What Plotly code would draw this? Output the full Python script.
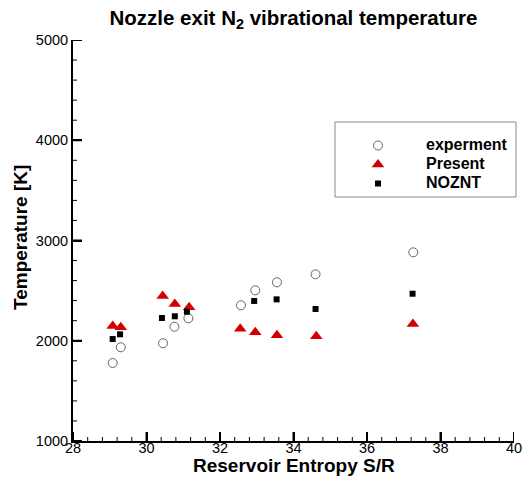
import plotly.graph_objects as go

# Data
exp_x = [29.08, 29.30, 30.45, 30.76, 31.14, 32.57, 32.96, 33.55, 34.60, 37.26]
exp_y = [1778, 1935, 1975, 2140, 2224, 2354, 2503, 2583, 2663, 2882]

present_x = [29.08, 29.30, 30.44, 30.77, 31.16, 32.55, 32.96, 33.55, 34.62, 37.25]
present_y = [2147, 2134, 2446, 2367, 2334, 2120, 2084, 2054, 2044, 2167]

noznt_x = [29.08, 29.28, 30.42, 30.77, 31.10, 32.93, 33.54, 34.60, 37.24]
noznt_y = [2017, 2064, 2227, 2244, 2290, 2397, 2413, 2317, 2469]

x_range = [28, 40]
y_range = [1000, 5000]
x_major_step, x_minor_per = 2, 5      # minor every 0.4
y_major_step, y_minor_per = 1000, 5   # minor every 200

FONT = "Liberation Sans, Arial, sans-serif"

W, H = 531, 481
L, R, T, B = 73, 17, 40, 40
PW, PH = W - L - R, H - T - B


def px_x(p):
    return (p - L) / PW


def px_y(p):
    return (H - B - p) / PH


def leg(name):
    return '<span style="font-size:16px"><b>' + name + "</b></span>"


fig = go.Figure()
fig.add_trace(go.Scatter(
    x=exp_x, y=exp_y, mode="markers", name=leg("experment"),
    marker=dict(symbol="circle-open", size=9, color="#666666", line=dict(width=1, color="#666666")),
))
fig.add_trace(go.Scatter(
    x=present_x, y=present_y, mode="markers", name=leg("Present"),
    marker=dict(symbol="triangle-up", size=11, color="#d40000"),
))
fig.add_trace(go.Scatter(
    x=noznt_x, y=noznt_y, mode="markers", name=leg("NOZNT"),
    marker=dict(symbol="square", size=6, color="#000000"),
))

axis_common = dict(
    showgrid=False, zeroline=False, showline=True, linecolor="black", linewidth=2,
    ticks="inside", ticklen=9, tickwidth=2, tickcolor="#000000",
    tickfont=dict(family=FONT, size=14.5, color="black"),
    mirror=False, automargin=False,
)

# Tick marks drawn as axis-anchored shapes (inside ticks, major + minor)
tick_shapes = []
nx = int(round((x_range[1] - x_range[0]) / x_major_step * x_minor_per))
for i in range(nx + 1):
    v = x_range[0] + i * x_major_step / x_minor_per
    major = i % x_minor_per == 0
    tick_shapes.append(dict(
        type="line", xref="x", yref="y", x0=v, x1=v,
        ysizemode="pixel", yanchor=y_range[0], y0=0, y1=9 if major else 4,
        line=dict(color="black", width=2 if major else 1),
    ))
ny = int(round((y_range[1] - y_range[0]) / y_major_step * y_minor_per))
for i in range(ny + 1):
    v = y_range[0] + i * y_major_step / y_minor_per
    major = i % y_minor_per == 0
    tick_shapes.append(dict(
        type="line", xref="x", yref="y", y0=v, y1=v,
        xsizemode="pixel", xanchor=x_range[0], x0=0, x1=9 if major else 4,
        line=dict(color="black", width=2 if major else 1),
    ))

legend_box = dict(
    type="rect", xref="paper", yref="paper",
    x0=px_x(335), x1=px_x(516),
    y0=px_y(197), y1=px_y(122),
    line=dict(color="#888888", width=1), fillcolor="rgba(0,0,0,0)",
)

fig.update_layout(
    width=W, height=H,
    paper_bgcolor="white", plot_bgcolor="white",
    margin=dict(l=L, r=R, t=T, b=B),
    title=dict(
        text="<b>Nozzle exit N<sub>2</sub> vibrational temperature</b>",
        x=0.5, xref="paper", xanchor="center", y=1 - 18 / H, yref="container", yanchor="middle",
        font=dict(family=FONT, size=20.5, color="black"),
    ),
    xaxis=dict(
        range=x_range, dtick=x_major_step, tick0=x_range[0], tickmode="linear",
        ticklabelstandoff=-7,
        **axis_common,
    ),
    yaxis=dict(
        range=y_range, dtick=y_major_step, tick0=y_range[0], tickmode="linear",
        **axis_common,
    ),
    legend=dict(
        x=px_x(330), y=px_y(131), xanchor="left", yanchor="top",
        bgcolor="rgba(0,0,0,0)", borderwidth=0,
        font=dict(family=FONT, size=12, color="black"),
        itemwidth=86, tracegroupgap=0,
    ),
    showlegend=True,
    shapes=tick_shapes + [legend_box],
    annotations=[
        dict(text="<b>Reservoir Entropy S/R</b>", xref="paper", yref="paper",
             x=px_x(294), y=px_y(465), xanchor="center", yanchor="middle", showarrow=False,
             font=dict(family=FONT, size=19, color="black")),
        dict(text="<b>Temperature [K]</b>", xref="paper", yref="paper",
             x=px_x(20), y=px_y(238), xanchor="center", yanchor="middle", showarrow=False,
             textangle=-90, font=dict(family=FONT, size=19, color="black")),
    ],
)

fig.write_html(
    "out.html",
    config={"displayModeBar": False},
    post_script="document.body.style.margin='0';document.body.style.overflow='hidden';",
)
